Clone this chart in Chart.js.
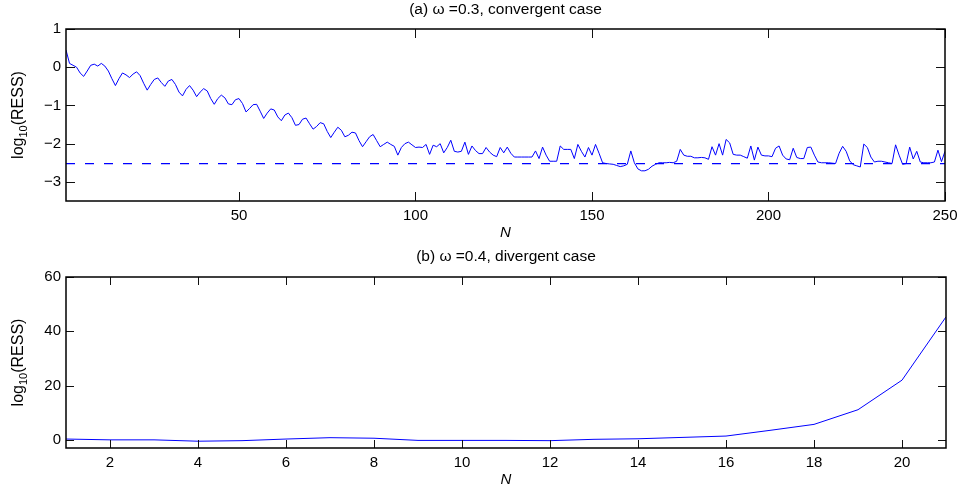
<!DOCTYPE html>
<html>
<head>
<meta charset="utf-8">
<script src="https://cdn.jsdelivr.net/npm/chart.js@4.4.1/dist/chart.umd.min.js"></script>
<style>
  html, body { margin: 0; padding: 0; background: #fff; }
  #wrap { width: 966px; height: 493px; position: relative; }
  canvas { position: absolute; left: 0; }
  #chartA { top: 0; }
  #chartB { top: 246px; }
</style>
</head>
<body>
<div id="wrap">
  <canvas id="chartA" width="966" height="246"></canvas>
  <canvas id="chartB" width="966" height="247"></canvas>
</div>
<script>
// (a) omega = 0.3, convergent case: log10(RESS) for N = 1..250
const convergentRess = [
  0.45, 0.10, 0.05, 0.00, -0.15, -0.24, -0.10, 0.05, 0.08, 0.03,
  0.10, 0.03, -0.10, -0.30, -0.48, -0.30, -0.15, -0.20, -0.27, -0.18,
  -0.12, -0.22, -0.42, -0.60, -0.45, -0.32, -0.28, -0.40, -0.50, -0.36,
  -0.32, -0.45, -0.65, -0.75, -0.58, -0.48, -0.60, -0.77, -0.65, -0.56,
  -0.62, -0.82, -0.97, -0.82, -0.73, -0.80, -0.96, -0.98, -0.85, -0.82,
  -0.95, -1.17, -1.08, -0.98, -0.97, -1.15, -1.34, -1.20, -1.09, -1.12,
  -1.30, -1.40, -1.25, -1.20, -1.32, -1.52, -1.50, -1.36, -1.33, -1.48,
  -1.62, -1.55, -1.45, -1.48, -1.68, -1.84, -1.70, -1.57, -1.65, -1.82,
  -1.78, -1.70, -1.72, -1.92, -2.08, -1.95, -1.82, -1.76, -1.92, -2.08,
  -2.02, -1.96, -2.02, -2.07, -2.30, -2.10, -2.00, -1.96, -2.03, -2.10,
  -2.09, -2.10, -2.02, -2.28, -2.04, -2.08, -2.00, -2.24, -2.10, -1.91,
  -2.20, -2.22, -2.20, -1.96, -2.28, -2.06, -2.18, -2.26, -2.26, -2.10,
  -2.22, -2.30, -2.34, -2.10, -2.24, -2.09, -2.25, -2.35, -2.35, -2.35,
  -2.35, -2.35, -2.35, -2.19, -2.39, -2.09, -2.30, -2.46, -2.46, -2.46,
  -2.06, -2.15, -2.15, -2.15, -2.39, -2.02, -2.20, -2.35, -2.10, -2.30,
  -2.02, -2.25, -2.50, -2.52, -2.53, -2.54, -2.57, -2.60, -2.58, -2.54,
  -2.19, -2.50, -2.66, -2.71, -2.71, -2.67, -2.59, -2.54, -2.50, -2.50,
  -2.50, -2.49, -2.50, -2.46, -2.15, -2.30, -2.33, -2.33, -2.37, -2.37,
  -2.36, -2.37, -2.41, -2.08, -2.30, -2.00, -2.30, -1.89, -1.98, -2.28,
  -2.30, -2.30, -2.34, -2.38, -2.06, -2.43, -2.09, -2.30, -2.32, -2.32,
  -2.34, -2.12, -2.06, -2.30, -2.40, -2.42, -2.12, -2.36, -2.39, -2.39,
  -2.10, -2.09, -2.30, -2.48, -2.50, -2.50, -2.50, -2.51, -2.52, -2.25,
  -2.07, -2.20, -2.45, -2.55, -2.58, -2.61, -2.01, -2.10, -2.35, -2.48,
  -2.46, -2.46, -2.48, -2.50, -2.52, -2.03, -2.30, -2.54, -2.52, -2.09,
  -2.40, -2.20, -2.48, -2.50, -2.50, -2.50, -2.48, -2.17, -2.47, -2.20
];
const convergentN = convergentRess.map((_, i) => i + 1);
const referenceLevel = -2.52;

// (b) omega = 0.4, divergent case: log10(RESS) for N = 1..21
const divergentN = [1, 2, 3, 4, 5, 6, 7, 8, 9, 10, 11, 12, 13, 14, 15, 16, 17, 18, 19, 20, 21];
const divergentRess = [0.3, 0.0, 0.0, -0.5, -0.3, 0.3, 0.8, 0.6, -0.2, -0.2, -0.2, -0.3, 0.2, 0.4, 0.9, 1.4, 3.5, 5.7, 11.1, 22.0, 45.3];

const ticksA_x = [50, 100, 150, 200, 250];
const ticksA_y = [-3, -2, -1, 0, 1];
const ticksB_x = [2, 4, 6, 8, 10, 12, 14, 16, 18, 20];
const ticksB_y = [0, 20, 40, 60];

const FONT = '"Liberation Sans", Arial, Helvetica, sans-serif';
const BLUE = '#0000ff';

// box, inward ticks on all four sides, panel title and y label with subscript
const matlabFrame = {
  id: 'matlabFrame',
  afterDraw(chart, args, o) {
    const { ctx, chartArea: a, scales: { x, y } } = chart;
    ctx.save();
    ctx.strokeStyle = '#111';
    ctx.lineWidth = 1;
    ctx.beginPath();
    x.ticks.forEach(t => {
      const px = Math.round(x.getPixelForValue(t.value)) + 0.5;
      ctx.moveTo(px, a.bottom); ctx.lineTo(px, a.bottom - o.tick);
      ctx.moveTo(px, a.top); ctx.lineTo(px, a.top + o.tick);
    });
    y.ticks.forEach(t => {
      const py = Math.round(y.getPixelForValue(t.value)) + 0.5;
      ctx.moveTo(a.left, py); ctx.lineTo(a.left + o.tick, py);
      ctx.moveTo(a.right, py); ctx.lineTo(a.right - o.tick, py);
    });
    ctx.stroke();
    ctx.lineWidth = 1.5;
    ctx.strokeStyle = '#000';
    ctx.strokeRect(a.left, a.top, a.right - a.left, a.bottom - a.top);

    ctx.fillStyle = '#000';
    ctx.textAlign = 'center';
    ctx.textBaseline = 'middle';
    ctx.font = '15.5px ' + FONT;
    ctx.fillText(o.title, (a.left + a.right) / 2, o.titleY);

    // rotated "log10(RESS)"
    ctx.translate(o.labelX, (a.top + a.bottom) / 2);
    ctx.rotate(-Math.PI / 2);
    ctx.textAlign = 'left';
    ctx.textBaseline = 'alphabetic';
    const big = '16px ' + FONT, small = '11px ' + FONT;
    ctx.font = big; const w1 = ctx.measureText('log').width; const w3 = ctx.measureText('(RESS)').width;
    ctx.font = small; const w2 = ctx.measureText('10').width;
    let cx = -(w1 + w2 + w3) / 2;
    ctx.font = big; ctx.fillText('log', cx, 5); cx += w1;
    ctx.font = small; ctx.fillText('10', cx, 9); cx += w2;
    ctx.font = big; ctx.fillText('(RESS)', cx, 5);
    ctx.restore();
  }
};

function minusLabel(v) {
  return v < 0 ? '\u2212' + Math.abs(v) : String(v);
}

function makePanel(canvasId, cfg) {
  return new Chart(document.getElementById(canvasId), {
    type: 'line',
    data: { datasets: cfg.datasets },
    options: {
      responsive: false,
      animation: false,
      layout: { padding: { top: cfg.top, right: cfg.right, left: 0, bottom: 0 } },
      plugins: {
        legend: { display: false },
        tooltip: { enabled: false },
        matlabFrame: cfg.frame
      },
      elements: { point: { radius: 0 }, line: { tension: 0 } },
      scales: {
        x: {
          type: 'linear',
          min: cfg.xMin, max: cfg.xMax,
          afterBuildTicks: s => { s.ticks = cfg.xTicks.map(v => ({ value: v })); },
          afterFit: s => { s.height = cfg.xHeight; },
          grid: { display: false, drawTicks: false },
          border: { display: false },
          ticks: { color: '#000', padding: 6, maxRotation: 0, font: { family: FONT, size: 15 }, callback: v => minusLabel(v) },
          title: { display: true, text: 'N', color: '#000', padding: { top: 0, bottom: 4 }, font: { family: FONT, size: 15, style: 'italic' } }
        },
        y: {
          type: 'linear',
          min: cfg.yMin, max: cfg.yMax,
          afterBuildTicks: s => { s.ticks = cfg.yTicks.map(v => ({ value: v })); },
          afterFit: s => { s.width = 66; },
          grid: { display: false, drawTicks: false },
          border: { display: false },
          ticks: { color: '#000', padding: 5, font: { family: FONT, size: 15 }, callback: v => minusLabel(v) }
        }
      }
    },
    plugins: [matlabFrame]
  });
}

makePanel('chartA', {
  top: 29, right: 21, xHeight: 45,
  xMin: 1, xMax: 250, yMin: -3.5, yMax: 1,
  xTicks: ticksA_x, yTicks: ticksA_y,
  frame: { tick: 9, title: '(a) \u03c9 =0.3, convergent case', titleY: 10, labelX: 18 },
  datasets: [
    {
      data: convergentN.map((n, i) => ({ x: n, y: convergentRess[i] })),
      borderColor: BLUE, borderWidth: 1, fill: false
    },
    {
      data: [{ x: 1, y: referenceLevel }, { x: 250, y: referenceLevel }],
      borderColor: BLUE, borderWidth: 1.2, borderDash: [9, 10], fill: false
    }
  ]
});

makePanel('chartB', {
  top: 31, right: 20, xHeight: 45,
  xMin: 1, xMax: 21, yMin: -3, yMax: 60,
  xTicks: ticksB_x, yTicks: ticksB_y,
  frame: { tick: 8, title: '(b) \u03c9 =0.4, divergent case', titleY: 11, labelX: 18 },
  datasets: [
    {
      data: divergentN.map((n, i) => ({ x: n, y: divergentRess[i] })),
      borderColor: BLUE, borderWidth: 1, fill: false
    }
  ]
});
</script>
</body>
</html>
